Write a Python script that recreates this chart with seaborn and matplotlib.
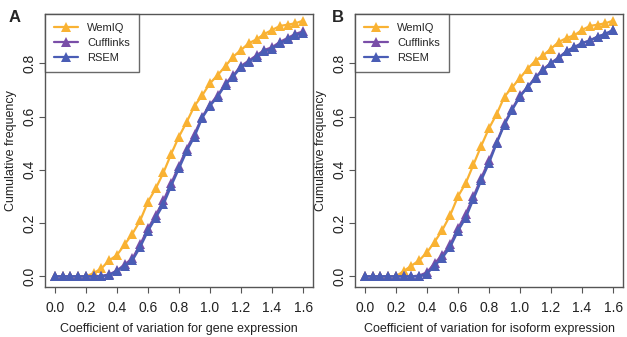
import numpy as np
import pandas as pd
import seaborn as sns
import matplotlib.pyplot as plt

# ---------------- Data ----------------
cv = [round(0.05 * i, 2) for i in range(33)]  # 0.00 .. 1.60

gene_wemiq = [0.0, 0.0, 0.0, 0.0, 0.0, 0.012, 0.03, 0.06, 0.08, 0.12, 0.16,
              0.21, 0.28, 0.33, 0.39, 0.46, 0.525, 0.58, 0.64, 0.68, 0.725,
              0.756, 0.79, 0.825, 0.85, 0.875, 0.89, 0.91, 0.925, 0.94, 0.945,
              0.95, 0.96]
gene_cufflinks = [0.0, 0.0, 0.0, 0.0, 0.0, 0.0, 0.002, 0.007, 0.022, 0.045,
                  0.068, 0.12, 0.18, 0.23, 0.285, 0.35, 0.415, 0.48, 0.535,
                  0.6, 0.645, 0.68, 0.725, 0.755, 0.79, 0.81, 0.83, 0.85,
                  0.86, 0.88, 0.895, 0.91, 0.92]
gene_rsem = [0.0, 0.0, 0.0, 0.0, 0.0, 0.0, 0.0, 0.005, 0.02, 0.04, 0.06,
             0.11, 0.17, 0.22, 0.27, 0.34, 0.405, 0.47, 0.525, 0.595, 0.64,
             0.675, 0.72, 0.75, 0.785, 0.805, 0.825, 0.845, 0.855, 0.875,
             0.89, 0.905, 0.915]

iso_wemiq = [0.0, 0.0, 0.0, 0.0, 0.0, 0.02, 0.04, 0.06, 0.09, 0.13, 0.175,
             0.23, 0.30, 0.35, 0.42, 0.49, 0.556, 0.61, 0.675, 0.71, 0.745,
             0.78, 0.81, 0.83, 0.855, 0.88, 0.895, 0.905, 0.925, 0.94, 0.945,
             0.95, 0.96]
iso_cufflinks = [0.0, 0.0, 0.0, 0.0, 0.0, 0.0, 0.0, 0.003, 0.015, 0.05, 0.08,
                 0.12, 0.18, 0.235, 0.3, 0.37, 0.435, 0.505, 0.575, 0.63,
                 0.68, 0.712, 0.748, 0.778, 0.802, 0.822, 0.846, 0.861,
                 0.876, 0.886, 0.9, 0.91, 0.925]
iso_rsem = [0.0, 0.0, 0.0, 0.0, 0.0, 0.0, 0.0, 0.0, 0.01, 0.04, 0.07, 0.11,
            0.17, 0.22, 0.29, 0.36, 0.425, 0.5, 0.57, 0.625, 0.675, 0.71,
            0.745, 0.775, 0.8, 0.82, 0.845, 0.86, 0.875, 0.885, 0.9, 0.91,
            0.925]

methods = ["WemIQ", "Cufflinks", "RSEM"]
colors = {"WemIQ": "#F9B233", "Cufflinks": "#7A4EA8", "RSEM": "#4A5DB5"}


def long_table(series):
    rows = []
    for name, vals in zip(methods, series):
        for x, y in zip(cv, vals):
            rows.append({"cv": x, "freq": y, "method": name})
    return pd.DataFrame(rows)


panels = [
    ("A", "Coefficient of variation for gene expression",
     long_table([gene_wemiq, gene_cufflinks, gene_rsem])),
    ("B", "Coefficient of variation for isoform expression",
     long_table([iso_wemiq, iso_cufflinks, iso_rsem])),
]

# ---------------- Plot ----------------
sns.set_style("ticks")
plt.rcParams["font.family"] = ["Liberation Sans", "DejaVu Sans"]

fig = plt.figure(figsize=(6.27, 3.37), dpi=100)
W, H = 627, 337
axes = [fig.add_axes([45 / W, 1 - 287 / H, 268 / W, 273 / H]),
        fig.add_axes([355 / W, 1 - 287 / H, 268 / W, 273 / H])]
label_x = [15 / W, 338 / W]

for ax, lx, (label, xlabel, df) in zip(axes, label_x, panels):
    sns.lineplot(data=df, x="cv", y="freq", hue="method", hue_order=methods,
                 palette=colors, marker="^", markersize=7,
                 markeredgewidth=0, linewidth=1.6, ax=ax)
    ax.set_xlim(-0.064, 1.664)
    ax.set_ylim(-0.04, 0.985)
    ax.set_xticks(np.arange(0, 1.61, 0.2))
    ax.set_xticklabels([f"{t:.1f}" for t in np.arange(0, 1.61, 0.2)])
    ax.set_yticks([0.0, 0.2, 0.4, 0.6, 0.8])
    ax.set_yticklabels(["0.0", "0.2", "0.4", "0.6", "0.8"], rotation=90,
                       va="center")
    ax.tick_params(labelsize=10, color="#555555", length=4, width=0.8,
                   labelcolor="#222222")
    ax.tick_params(axis="x", pad=6)
    ax.tick_params(axis="y", pad=2)
    for s in ax.spines.values():
        s.set_color("#555555")
        s.set_linewidth(1.0)
    ax.set_xlabel(xlabel, fontsize=9, color="#222222", labelpad=6)
    ax.set_ylabel("Cumulative frequency", fontsize=9, color="#222222")
    ax.yaxis.set_label_coords(-0.105, 0.5)
    leg = ax.legend(loc="upper left", fontsize=8, frameon=True, fancybox=False,
                    borderaxespad=0, handlelength=2.2, handletextpad=0.8,
                    borderpad=0.8, labelspacing=0.45)
    leg.get_frame().set_edgecolor("#444444")
    leg.get_frame().set_linewidth(1.0)
    leg.set_title(None)
    fig.text(lx, 1 - 18 / H, label, fontsize=12, fontweight="bold",
             ha="center", va="center")

fig.savefig("out.png", dpi=100)
